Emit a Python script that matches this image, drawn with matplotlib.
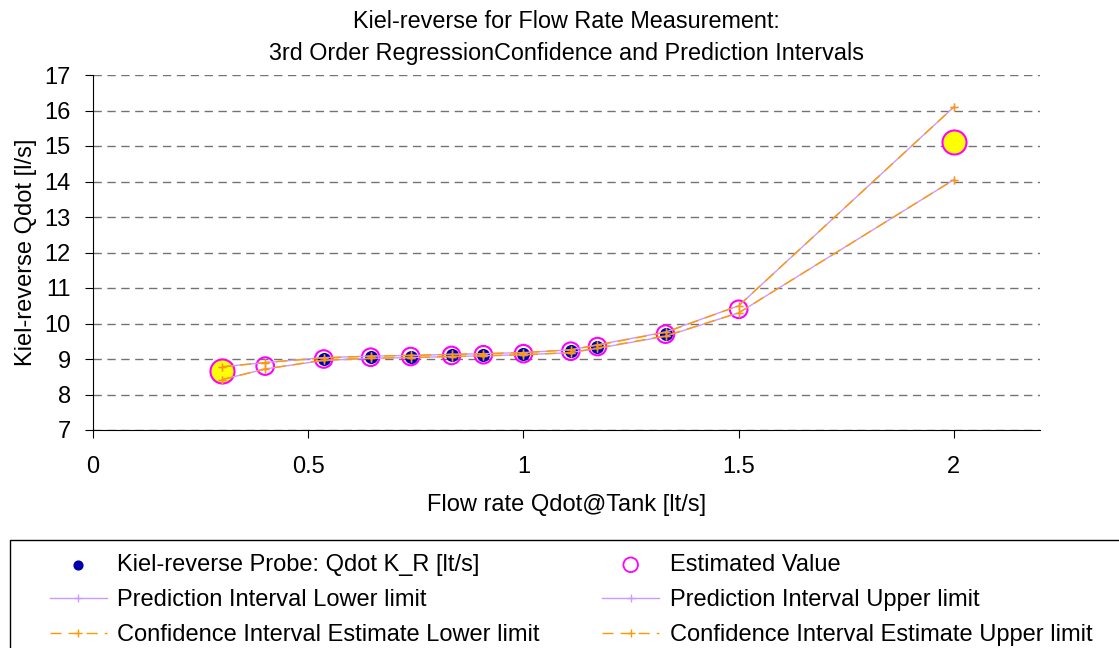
import matplotlib
matplotlib.use("Agg")
import matplotlib.pyplot as plt
from matplotlib.patches import Rectangle

plt.rcParams["font.family"] = ["Liberation Sans", "DejaVu Sans"]

# data
x_all = [0.3, 0.4, 0.536, 0.645, 0.738, 0.833, 0.907, 1.0, 1.11, 1.172, 1.33, 1.5, 2.0]
estimated = [8.65, 8.8, 9.0, 9.05, 9.07, 9.1, 9.12, 9.15, 9.22, 9.35, 9.7, 10.4, 15.1]
x_meas = [0.536, 0.645, 0.738, 0.833, 0.907, 1.0, 1.11, 1.172, 1.33]
measured = [9.0, 9.05, 9.07, 9.1, 9.12, 9.15, 9.22, 9.35, 9.7]
pi_lower = [8.42, 8.72, 8.96, 9.02, 9.04, 9.07, 9.09, 9.12, 9.18, 9.3, 9.64, 10.3, 14.05]
pi_upper = [8.78, 8.9, 9.04, 9.08, 9.1, 9.13, 9.15, 9.18, 9.26, 9.4, 9.76, 10.5, 16.1]
ci_lower = [8.42, 8.72, 8.97, 9.02, 9.04, 9.07, 9.09, 9.12, 9.18, 9.31, 9.65, 10.3, 14.05]
ci_upper = [8.78, 8.9, 9.03, 9.08, 9.1, 9.13, 9.15, 9.18, 9.26, 9.39, 9.75, 10.5, 16.1]
x_highlight = [0.3, 2.0]
y_highlight = [8.65, 15.1]

W, H = 1119, 648
fig = plt.figure(figsize=(W / 100, H / 100), dpi=100)
ax = fig.add_axes([93 / W, 1 - 430 / H, (1040 - 93) / W, (430 - 75) / H])

ax.scatter(x_highlight, y_highlight, s=300, facecolor="#FFFF00", edgecolor="#FF00FF",
           lw=1.5, zorder=1.5)
ax.plot(x_all, pi_lower, color="#CC99FF", lw=1.0, marker="+", ms=6,
        label="Prediction Interval Lower limit")
ax.plot(x_all, pi_upper, color="#CC99FF", lw=1.0, marker="+", ms=6,
        label="Prediction Interval Upper limit")
ax.plot(x_all, ci_lower, color="#FF9900", lw=1.0, ls=(0, (8, 5)), marker="+", ms=6,
        label="Confidence Interval Estimate Lower limit")
ax.plot(x_all, ci_upper, color="#FF9900", lw=1.0, ls=(0, (8, 5)), marker="+", ms=6,
        label="Confidence Interval Estimate Upper limit")
ax.scatter(x_meas, measured, s=70, color="#0000AA", zorder=1.8)
ax.scatter(x_all[1:-1], estimated[1:-1], s=160, facecolor="none", edgecolor="#FF00FF",
           lw=1.5, zorder=1.7)
# legend proxies (smaller markers, as in the reference legend)
ax.scatter([], [], s=40, color="#0000AA", label="Kiel-reverse Probe: Qdot K_R [lt/s]")
ax.scatter([], [], s=110, facecolor="none", edgecolor="#FF00FF", lw=1.3,
           label="Estimated Value")

ax.set_xlim(0, 2.2)
ax.set_ylim(7, 17)
ax.set_xticks([0, 0.5, 1, 1.5, 2])
ax.set_xticklabels(["0", "0.5", "1", "1.5", "2"])
ax.set_yticks(range(7, 18))
ax.tick_params(labelsize=17, direction="out", length=6)
ax.tick_params(axis="x", pad=13)
ax.tick_params(axis="y", pad=10)
ax.grid(axis="y", color="black", ls=(0, (6, 4)), lw=1.0, alpha=0.55)
ax.set_axisbelow(True)
for side in ["top", "right"]:
    ax.spines[side].set_visible(False)

ax.set_xlabel("Flow rate Qdot@Tank [lt/s]", fontsize=17, labelpad=11)
ax.set_ylabel("Kiel-reverse Qdot [l/s]", fontsize=17, labelpad=5)
ax.set_title("Kiel-reverse for Flow Rate Measurement:\n"
             "3rd Order RegressionConfidence and Prediction Intervals",
             fontsize=16.8, pad=11, linespacing=1.5)

# legend box, running off the right and bottom edges like the reference
fig.patches.append(Rectangle((10 / W, -0.05), 1.05, 0.05 + (H - 540) / H,
                             transform=fig.transFigure, fill=False,
                             edgecolor="black", lw=1.0))

handles, labels = ax.get_legend_handles_labels()
by_label = dict(zip(labels, handles))
legend_order = [
    "Kiel-reverse Probe: Qdot K_R [lt/s]",
    "Prediction Interval Lower limit",
    "Confidence Interval Estimate Lower limit",
    "Estimated Value",
    "Prediction Interval Upper limit",
    "Confidence Interval Estimate Upper limit",
]
leg = fig.legend([by_label[k] for k in legend_order], legend_order,
                 loc="upper left", bbox_to_anchor=(50 / W, (H - 554) / H),
                 ncol=2, fontsize=17, frameon=False, borderaxespad=0,
                 borderpad=0, handlelength=2.4, handletextpad=0.45,
                 labelspacing=0.55, columnspacing=2.65)

fig.savefig("out.png", dpi=100)
